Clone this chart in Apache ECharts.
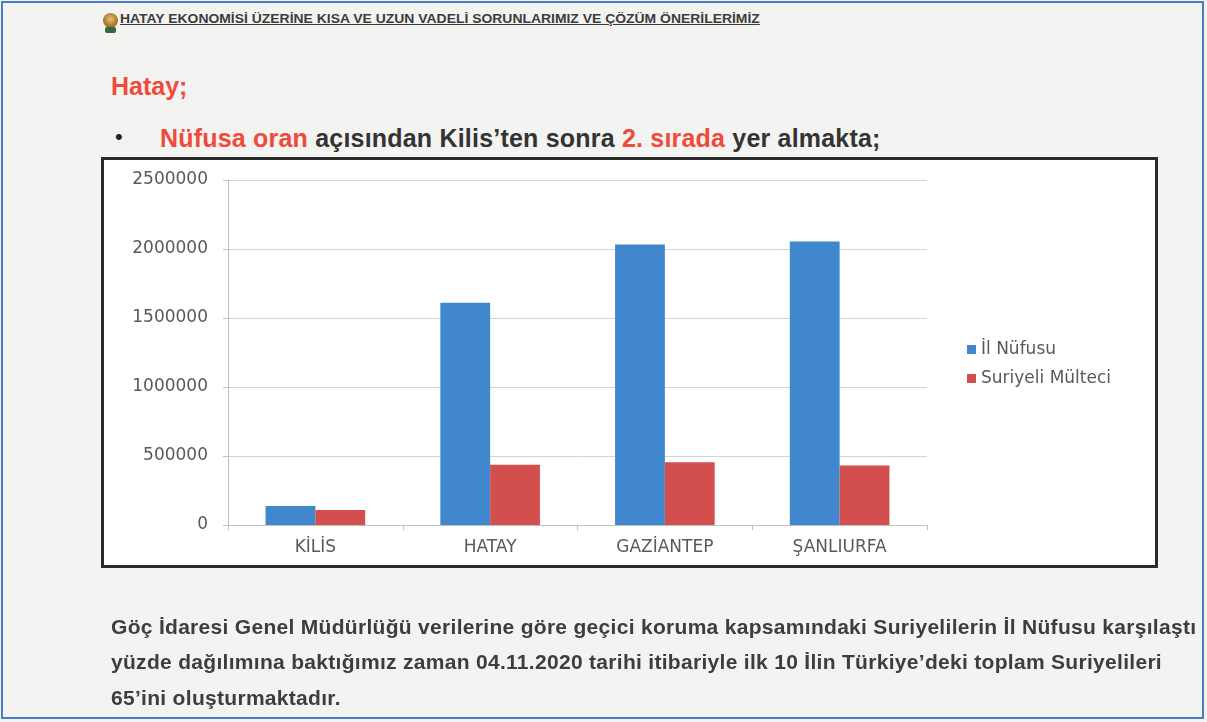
<!DOCTYPE html>
<html>
<head>
<meta charset="utf-8">
<script src="https://cdn.jsdelivr.net/npm/echarts@6/dist/echarts.min.js"></script>
<style>
  html, body { margin:0; padding:0; }
  body { width:1207px; height:722px; position:relative; overflow:hidden; background:#f3f3f1; font-family:"Liberation Sans", Arial, sans-serif; }
  .frame { position:absolute; left:1px; top:1px; width:1203px; height:718px; border:2px solid #4a7cc2; box-sizing:border-box; overflow:hidden; }
  .t { position:absolute; white-space:nowrap; }
  #hdr { left:120px; top:12px; font-size:12px; font-weight:bold; color:#3c3c3c; text-decoration:underline; transform:scaleX(1.16); transform-origin:0 50%; }
  #logo { position:absolute; left:103px; top:13px; width:15px; height:15px; border-radius:50%; background:radial-gradient(circle at 50% 40%, #e8c070 0, #b07a30 55%, #6b4a1e 100%); }
  #logo2 { position:absolute; left:105px; top:27px; width:11px; height:6px; background:#2f6b3a; border-radius:2px; }
  #title { left:111px; top:72px; font-size:25px; font-weight:bold; color:#ef4a3b; }
  #bullet { left:115px; top:124px; font-size:22px; color:#222; }
  #line { left:160px; top:124px; font-size:25px; font-weight:bold; color:#333; letter-spacing:0.2px; }
  .red { color:#ef4a3b; }
  #box { position:absolute; left:101px; top:157px; width:1057px; height:411px; border:3px solid #2b2b2b; background:#fff; box-sizing:border-box; }
  #chart { position:absolute; left:0; top:0; width:1207px; height:722px; }
  .p { left:111px; font-size:21px; font-weight:bold; color:#3d3d3d; letter-spacing:0.3px; }
</style>
</head>
<body>
<div id="logo"></div><div id="logo2"></div>
<div class="t" id="hdr">HATAY EKONOMİSİ ÜZERİNE KISA VE UZUN VADELİ SORUNLARIMIZ VE ÇÖZÜM ÖNERİLERİMİZ</div>
<div class="t" id="title">Hatay;</div>
<div class="t" id="bullet">•</div>
<div class="t" id="line"><span class="red">Nüfusa oran</span> açısından Kilis’ten sonra <span class="red">2. sırada</span> yer almakta;</div>
<div id="box"></div>
<div id="chart"></div>
<div class="t p" style="top:615px;">Göç İdaresi Genel Müdürlüğü verilerine göre geçici koruma kapsamındaki Suriyelilerin İl Nüfusu karşılaştı</div>
<div class="t p" style="top:650px;">yüzde dağılımına baktığımız zaman 04.11.2020 tarihi itibariyle ilk 10 İlin Türkiye’deki toplam Suriyelileri</div>
<div class="t p" style="top:686px;">65’ini oluşturmaktadır.</div>
<div class="frame"></div>
<script>
const categories = ['KİLİS', 'HATAY', 'GAZİANTEP', 'ŞANLIURFA'];
const ilNufusu = [138000, 1610000, 2032000, 2055000];
const suriyeliMulteci = [109000, 436000, 455000, 432000];
const seriesNames = ['İl Nüfusu', 'Suriyeli Mülteci'];

const chart = echarts.init(document.getElementById('chart'), null, { renderer: 'canvas' });
chart.setOption({
  animation: false,
  backgroundColor: 'transparent',
  textStyle: { fontFamily: 'DejaVu Sans' },
  grid: { left: 228, right: 280, top: 180, bottom: 197, containLabel: false },
  legend: {
    orient: 'vertical',
    left: 962, top: 336,
    itemWidth: 9, itemHeight: 9, itemGap: 12,
    icon: 'rect',
    textStyle: { color: '#595959', fontSize: 17, fontFamily: 'DejaVu Sans' },
    data: seriesNames
  },
  xAxis: {
    type: 'category',
    data: categories,
    axisLine: { lineStyle: { color: '#bfbfbf', width: 1 } },
    axisTick: { show: true, length: 5, lineStyle: { color: '#bfbfbf' } },
    axisLabel: { color: '#595959', fontSize: 17, margin: 14, fontFamily: 'DejaVu Sans' }
  },
  yAxis: {
    type: 'value',
    min: 0, max: 2500000, interval: 500000,
    axisLine: { show: true, lineStyle: { color: '#bfbfbf', width: 1 } },
    axisTick: { show: true, length: 5, lineStyle: { color: '#bfbfbf' } },
    axisLabel: { color: '#595959', fontSize: 17, margin: 20, fontFamily: 'DejaVu Sans', formatter: v => String(v) },
    splitLine: { lineStyle: { color: '#d4d4d4', width: 1 } }
  },
  series: [
    { name: seriesNames[0], type: 'bar', data: ilNufusu, barGap: '0%', barCategoryGap: '43%', itemStyle: { color: '#4187cd' } },
    { name: seriesNames[1], type: 'bar', data: suriyeliMulteci, barGap: '0%', barCategoryGap: '43%', itemStyle: { color: '#d24f4e' } }
  ]
});
</script>
</body>
</html>
